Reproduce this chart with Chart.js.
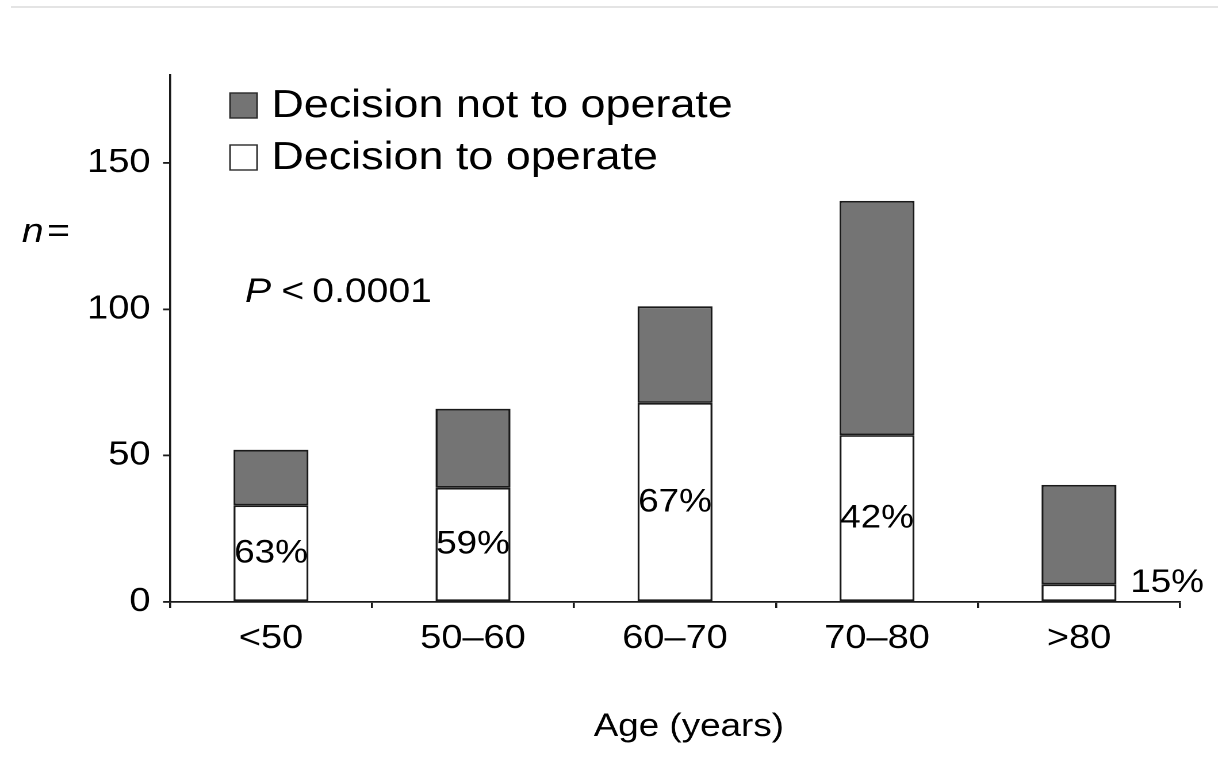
<!DOCTYPE html>
<html>
<head>
<meta charset="utf-8">
<script src="https://cdn.jsdelivr.net/npm/chart.js@4/dist/chart.umd.min.js"></script>
<style>
  html, body { margin: 0; padding: 0; background: #fff; overflow: hidden; }
  #topline { position: absolute; left: 11px; right: 0; top: 6px; height: 2px; background: #e4e4e4; }
  #wrap { position: absolute; left: 0; top: 0; width: 1059px; height: 764px;
          transform: scaleX(1.1501); transform-origin: 0 0; }
</style>
</head>
<body>
<div id="topline"></div>
<div id="wrap"><canvas id="c"></canvas></div>
<script>
// ---- data ----
const categories = ['<50', '50\u201360', '60\u201370', '70\u201380', '>80'];
const decisionToOperate = [33, 39, 68, 57, 6];
const decisionNotToOperate = [19, 27, 33, 80, 34];
const percentLabels = ['63%', '59%', '67%', '42%', '15%'];
const yTicks = [0, 50, 100, 150];
const seriesNames = ['Decision to operate', 'Decision not to operate'];
const xTitle = 'Age (years)';

const FONT = '"Liberation Sans", Arial, Helvetica, sans-serif';
const INK = '#000000';
const EDGE = '#1a1a1a';
const GREY = '#747474';

const annotations = {
  id: 'annotations',
  afterDatasetsDraw(chart) {
    const ctx = chart.ctx;
    const y = chart.scales.y;
    const meta = chart.getDatasetMeta(0);
    ctx.save();
    ctx.fillStyle = INK;
    ctx.font = '32px ' + FONT;
    meta.data.forEach((bar, i) => {
      const y0 = y.getPixelForValue(0);
      const y1 = y.getPixelForValue(decisionToOperate[i]);
      if (y0 - y1 > 40) {
        ctx.textAlign = 'center';
        ctx.textBaseline = 'middle';
        ctx.fillText(percentLabels[i], bar.x, (y0 + y1) / 2);
      } else {
        ctx.textAlign = 'left';
        ctx.textBaseline = 'alphabetic';
        ctx.fillText(percentLabels[i], bar.x + bar.width / 2 + 12, y0 - 10);
      }
    });
    ctx.restore();
  },
  afterDraw(chart) {
    const ctx = chart.ctx;
    const area = chart.chartArea;
    ctx.save();
    ctx.fillStyle = INK;
    ctx.textBaseline = 'alphabetic';
    ctx.textAlign = 'left';
    // legend
    const legend = [
      { name: seriesNames[1], fill: GREY, base: 117 },
      { name: seriesNames[0], fill: '#ffffff', base: 169 }
    ];
    legend.forEach(it => {
      ctx.fillStyle = it.fill;
      ctx.fillRect(200, it.base - 24, 23.5, 25);
      ctx.strokeStyle = '#2a2a2a';
      ctx.lineWidth = 1.4;
      ctx.strokeRect(200, it.base - 24, 23.5, 25);
      ctx.fillStyle = INK;
      ctx.font = '39px ' + FONT;
      ctx.fillText(it.name, 236, it.base);
    });
    // n =
    ctx.font = 'italic 34px ' + FONT;
    ctx.fillText('n', 19, 242);
    let w = ctx.measureText('n').width;
    ctx.font = '34px ' + FONT;
    ctx.fillText('=', 19 + w + 3, 242);
    // P < 0.0001
    ctx.font = 'italic 34px ' + FONT;
    ctx.fillText('P', 213, 302);
    w = ctx.measureText('P').width;
    ctx.font = '34px ' + FONT;
    ctx.fillText('<', 213 + w + 9, 302);
    const w2 = ctx.measureText('<').width;
    ctx.fillText('0.0001', 213 + w + 9 + w2 + 7, 302);
    // x axis title
    ctx.font = '32px ' + FONT;
    ctx.textAlign = 'center';
    ctx.fillText(xTitle, (area.left + area.right) / 2 + 12, 736);
    ctx.restore();
  }
};

new Chart(document.getElementById('c'), {
  type: 'bar',
  data: {
    labels: categories,
    datasets: [
      { label: seriesNames[0], data: decisionToOperate, backgroundColor: '#ffffff',
        borderColor: EDGE, borderWidth: 1.8, borderSkipped: false,
        barPercentage: 0.371, categoryPercentage: 1.0 },
      { label: seriesNames[1], data: decisionNotToOperate, backgroundColor: GREY,
        borderColor: EDGE, borderWidth: 1.8, borderSkipped: false,
        barPercentage: 0.371, categoryPercentage: 1.0 }
    ]
  },
  options: {
    responsive: true,
    maintainAspectRatio: false,
    devicePixelRatio: 2,
    animation: false,
    layout: { padding: { top: 75, right: 33, left: 0, bottom: 0 } },
    plugins: { legend: { display: false }, tooltip: { enabled: false } },
    scales: {
      x: {
        stacked: true,
        grid: { drawOnChartArea: false, drawTicks: true, tickLength: 6, color: EDGE, lineWidth: 1.8, offset: true },
        border: { display: true, color: EDGE, width: 1.8 },
        ticks: { color: INK, font: { family: FONT, size: 33 }, padding: 11, maxRotation: 0 },
        title: { display: false, text: xTitle },
        afterFit(s) { s.height = 162; }
      },
      y: {
        stacked: true,
        min: 0, max: 180,
        afterBuildTicks(s) { s.ticks = yTicks.map(v => ({ value: v })); },
        ticks: { color: INK, font: { family: FONT, size: 33 }, padding: 11 },
        grid: { drawOnChartArea: false, drawTicks: true, tickLength: 6, color: EDGE, lineWidth: 1.8 },
        border: { display: true, color: EDGE, width: 1.8 },
        afterFit(s) { s.width = 147.8; }
      }
    }
  },
  plugins: [annotations]
});
</script>
</body>
</html>
